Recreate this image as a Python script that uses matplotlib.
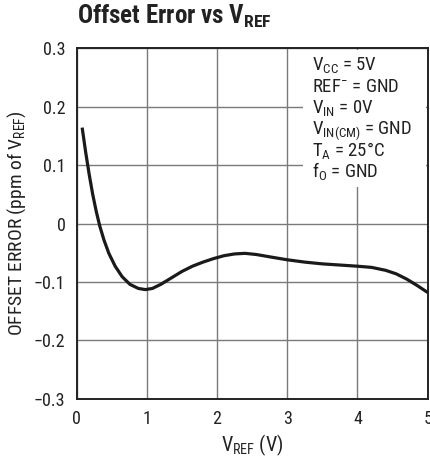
import matplotlib
matplotlib.use("Agg")
import matplotlib.pyplot as plt
from matplotlib.patches import Rectangle
from matplotlib import font_manager

names = {f.name for f in font_manager.fontManager.ttflist}
fam = 'Liberation Sans'
for cand in ['Liberation Sans Narrow', 'Roboto Condensed', 'Open Sans Condensed',
             'Noto Sans Condensed', 'DejaVu Sans Condensed']:
    if cand in names:
        fam = cand
        break
plt.rcParams['font.family'] = [fam, 'DejaVu Sans']
plt.rcParams['mathtext.fontset'] = 'custom'
plt.rcParams['mathtext.rm'] = fam
plt.rcParams['mathtext.it'] = fam
plt.rcParams['mathtext.bf'] = fam + ':bold'

vref = [0.08, 0.13, 0.18, 0.23, 0.28, 0.33, 0.39, 0.46, 0.55, 0.65, 0.76, 0.88, 0.98,
        1.08, 1.2, 1.35, 1.5, 1.65, 1.8, 1.95, 2.1, 2.25, 2.4, 2.56, 2.8, 3.0, 3.25,
        3.5, 3.75, 4.0, 4.2, 4.4, 4.55, 4.7, 4.85, 5.0]
offset = [0.164, 0.122, 0.084, 0.050, 0.021, -0.004, -0.028, -0.051, -0.073, -0.091,
          -0.104, -0.111, -0.113, -0.111, -0.104, -0.093, -0.082, -0.073, -0.066, -0.060,
          -0.055, -0.052, -0.051, -0.053, -0.058, -0.062, -0.066, -0.069, -0.071, -0.073,
          -0.075, -0.080, -0.086, -0.095, -0.106, -0.118]
xticks = [0, 1, 2, 3, 4, 5]
yticks = [-0.3, -0.2, -0.1, 0, 0.1, 0.2, 0.3]
ytick_labels = ['\u22120.3', '\u22120.2', '\u22120.1', '0', '0.1', '0.2', '0.3']
conditions = [r'V$_{\mathregular{CC}}$ = 5V',
              r'REF$^{\mathregular{-}}$ = GND',
              r'V$_{\mathregular{IN}}$ = 0V',
              r'V$_{\mathregular{IN(CM)}}$ = GND',
              'T$_{\\mathregular{A}}$ = 25\u00b0C',
              r'f$_{\mathregular{O}}$ = GND']

fig = plt.figure(figsize=(4.3, 4.62), dpi=100)
ax = fig.add_axes([0.178, 0.1364, 0.8167, 0.7596])
ax.plot(vref, offset, color='#1a1a1a', lw=2.3, solid_joinstyle='round',
        solid_capstyle='butt', zorder=3)
ax.set_xlim(0, 5)
ax.set_ylim(-0.3, 0.3)
ax.set_xticks(xticks)
ax.set_xticklabels([str(t) for t in xticks])
ax.set_yticks(yticks)
ax.set_yticklabels(ytick_labels)
ax.tick_params(axis='both', length=0, labelsize=13, colors='#222222')
ax.tick_params(axis='x', pad=8)
ax.tick_params(axis='y', pad=8)
ax.grid(True, color='#7a7a7a', lw=1.0)
for s in ax.spines.values():
    s.set_linewidth(1.4)
    s.set_color('#222222')
ax.set_xlabel(r'V$_{\mathregular{REF}}$ (V)', fontsize=14.5, color='#222222', labelpad=3)
ax.set_ylabel(r'OFFSET ERROR (ppm of V$_{\mathregular{REF}}$)', fontsize=14,
              color='#222222', labelpad=4)

ax.add_patch(Rectangle((0.645, 0.605), 0.35, 0.39, transform=ax.transAxes,
                       facecolor='white', edgecolor='none', zorder=2))
for i, line in enumerate(conditions):
    ax.text(0.67, 0.937 - 0.061 * i, line, transform=ax.transAxes, fontsize=13.5,
            va='baseline', ha='left', color='#222222', zorder=4)

fig.text(0.179, 0.948, r'Offset Error vs V$_{\mathbf{REF}}$', fontsize=18, fontweight='bold',
         ha='left', va='baseline', color='#222222')

fig.savefig('out.png', dpi=100)
